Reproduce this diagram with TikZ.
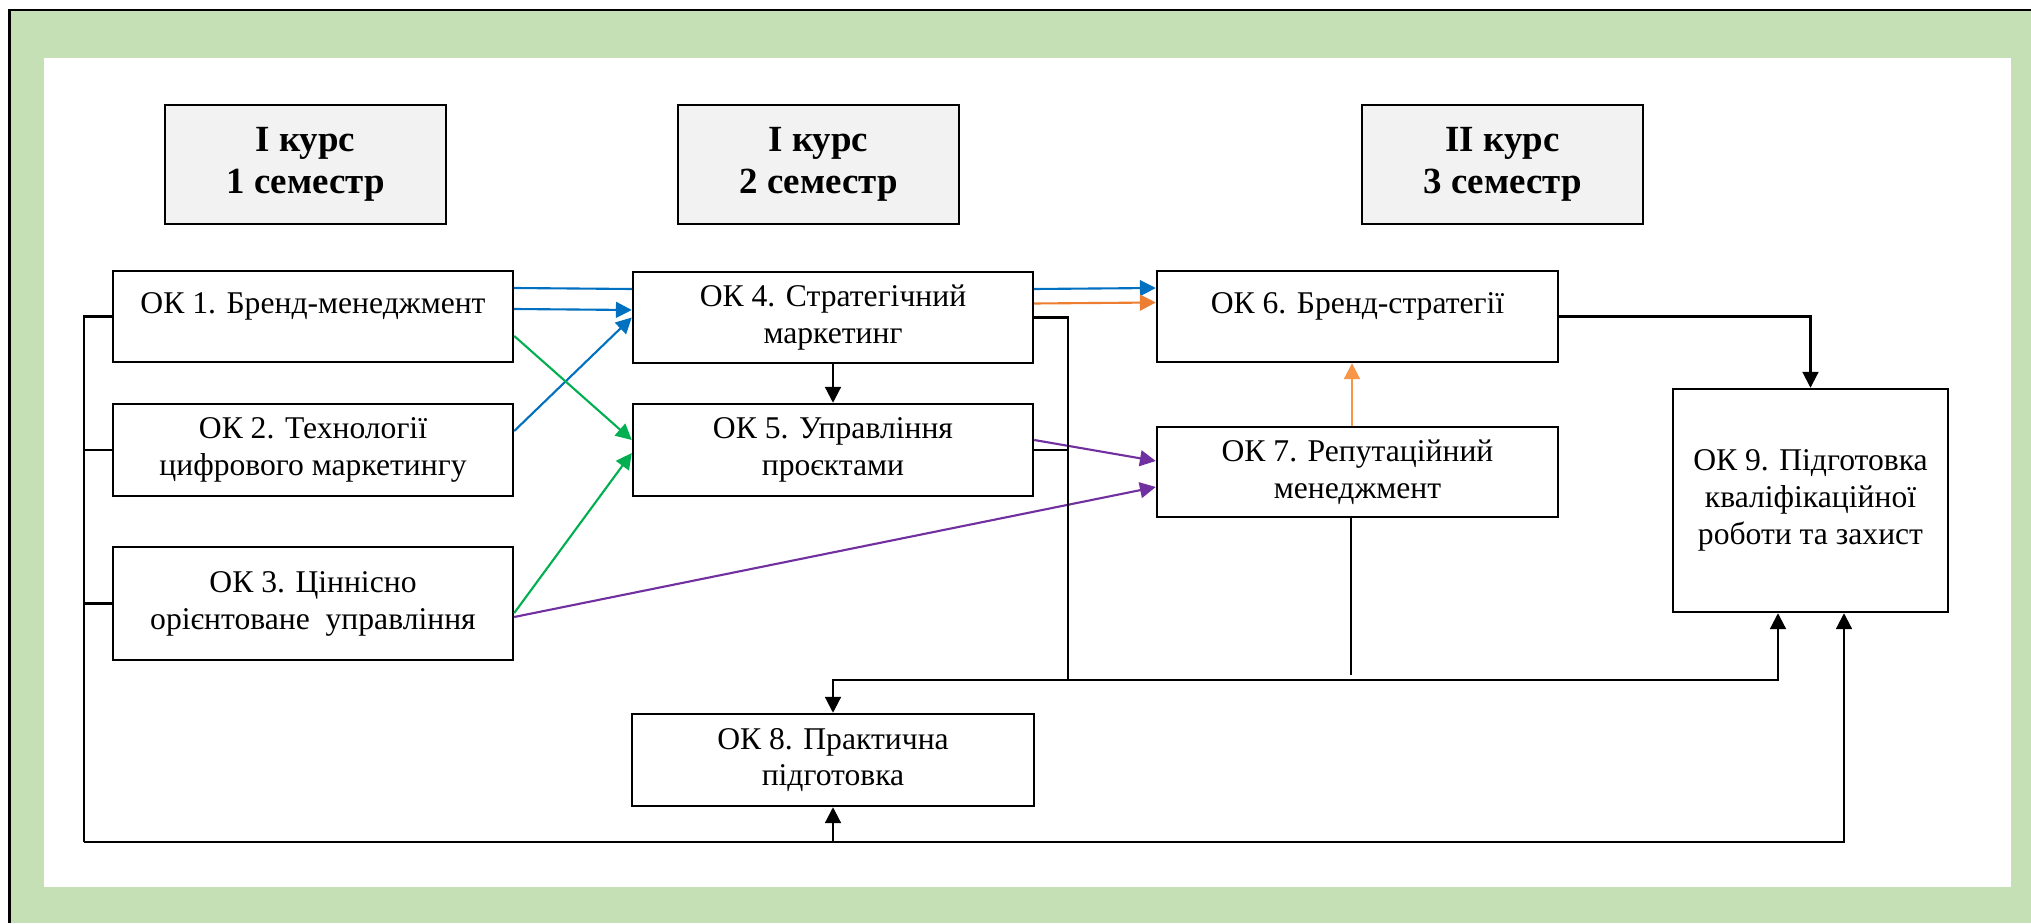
\documentclass[tikz,border=0pt]{standalone}
\usepackage{fontspec}
\setmainfont{Liberation Serif}
\usetikzlibrary{arrows.meta}
\definecolor{framegreen}{HTML}{C5E0B4}
\definecolor{headgray}{HTML}{F2F2F2}
\definecolor{linkblue}{HTML}{0070C0}
\definecolor{linkgreen}{HTML}{00B050}
\definecolor{linkpurple}{HTML}{7030A0}
\definecolor{linkorange}{HTML}{ED7D31}
\definecolor{lightorange}{HTML}{F79646}
\begin{document}
\begin{tikzpicture}[arrow/.style = {line width=0.6pt,-{Triangle[length=4.5pt,width=4.5pt]}},
                    link/.style = {line width=0.6pt},
                    box/.style = {draw, line width=0.7pt, fill=white, inner sep=0pt, align=center,
                                  minimum width=4cm, minimum height=0.91cm,
                                  font=\fontsize{9}{10.5}\selectfont},
                    head/.style = {box, fill=headgray, minimum width=2.81cm, minimum height=1.19cm,
                                   font=\bfseries\fontsize{10.5}{12}\selectfont}]
                        \useasboundingbox (0,0) rectangle (20.31,9.23);
                        \fill[framegreen] (0.09,0) rectangle (20.31,9.13);
                        \draw[line width=0.8pt] (0.095,0) -- (0.095,9.13) -- (20.31,9.13);
                        \fill[white] (0.44,0.36) rectangle (20.11,8.65);

                        \node[head] (sem1) at (3.055,7.585) {I курс\\1 семестр};
                        \node[head] (sem2) at (8.185,7.585) {I курс\\2 семестр};
                        \node[head] (sem3) at (15.025,7.585) {II курс\\3 семестр};

                        \node[box] (ok1) at (3.13,6.065) {ОК 1. Бренд-менеджмент\\[-6pt]\strut};
                        \node[box, minimum height=0.92cm] (ok2) at (3.13,4.73) {ОК 2. Технології\\цифрового маркетингу};
                        \node[box, minimum height=1.13cm] (ok3) at (3.13,3.195) {ОК 3. Ціннісно\\орієнтоване\ \ управління};
                        \node[box] (ok4) at (8.33,6.055) {ОК 4. Стратегічний\\маркетинг};
                        \node[box, minimum height=0.92cm] (ok5) at (8.33,4.73) {ОК 5. Управління\\проєктами};
                        \node[box, minimum width=4.01cm] (ok6) at (13.575,6.065) {ОК 6. Бренд-стратегії\\[-6pt]\strut};
                        \node[box, minimum width=4.01cm, minimum height=0.90cm] (ok7) at (13.575,4.51) {ОК 7. Репутаційний\\менеджмент};
                        \node[box, minimum width=4.02cm, minimum height=0.92cm] (ok8) at (8.33,1.63) {ОК 8. Практична\\підготовка};
                        \node[box, minimum width=2.75cm, minimum height=2.23cm] (ok9) at (18.105,4.225) {ОК 9. Підготовка\\кваліфікаційної\\роботи та захист};

                        \coordinate (lb) at (0.84,0.81);
                        \coordinate (tj) at (10.68,2.43);

                        \draw[link, linkblue] ([yshift=0.285cm]ok1.east) -- ([yshift=0.285cm]ok4.west);
                        \draw[arrow, linkblue] ([yshift=0.285cm]ok4.east) -- ([yshift=0.285cm]ok6.west);
                        \draw[arrow, linkblue] ([yshift=0.075cm]ok1.east) -- ([yshift=0.075cm]ok4.west);
                        \draw[arrow, linkblue] ([yshift=0.19cm]ok2.east) -- (ok4.west);
                        \draw[arrow, linkgreen] ([yshift=-0.195cm]ok1.east) -- ([yshift=0.1cm]ok5.west);
                        \draw[arrow, linkgreen] ([yshift=-0.095cm]ok3.east) -- ([yshift=-0.03cm]ok5.west);
                        \draw[arrow, linkpurple] ([yshift=-0.135cm]ok3.east) -- ([yshift=-0.15cm]ok7.west);
                        \draw[arrow, linkpurple] ([yshift=0.1cm]ok5.east) -- ([yshift=0.11cm]ok7.west);
                        \draw[arrow, linkorange] ([yshift=0.14cm]ok4.east) -- ([yshift=0.14cm]ok6.west);
                        \draw[arrow, lightorange] ([xshift=-0.055cm]ok7.north) -- ([xshift=-0.055cm]ok6.south);
                        \draw[arrow] (ok4.south) -- (ok5.north);
                        \draw[arrow] (ok6.east) -| (ok9.north);

                        \draw[link] (ok1.west) -| (lb);
                        \draw[link] (ok2.west) -- (ok2.west -| lb);
                        \draw[link] (ok3.west) -- (ok3.west -| lb);
                        \draw[arrow] (lb) -| ([xshift=0.335cm]ok9.south);
                        \draw[arrow] (lb -| ok8.south) -- (ok8.south);

                        \draw[link] (ok4.east) -| (tj);
                        \draw[link] (ok5.east) -- (ok5.east -| tj);
                        \draw[link] ([xshift=-0.065cm]ok7.south) -- ([xshift=-0.065cm,yshift=0.05cm]ok7.south |- tj);
                        \draw[arrow] (tj) -| (ok8.north);
                        \draw[arrow] (tj) -| ([xshift=-0.325cm]ok9.south);
                    \end{tikzpicture}
\end{document}
